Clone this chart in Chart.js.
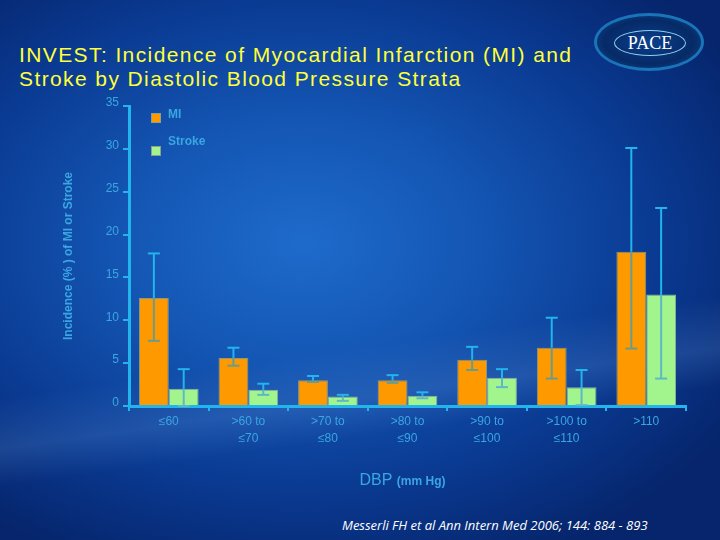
<!DOCTYPE html>
<html>
<head>
<meta charset="utf-8">
<script src="https://cdn.jsdelivr.net/npm/chart.js@4.4.1/dist/chart.umd.min.js"></script>
<style>
  html, body { margin: 0; padding: 0; }
  body {
    width: 720px; height: 540px; overflow: hidden; position: relative;
    background:
      linear-gradient(172deg, rgba(255,255,255,0) 62%, rgba(120,170,230,0.18) 70%, rgba(255,255,255,0) 76%),
      radial-gradient(ellipse 70% 65% at 42% 45%, #1e6bcb 0%, #1456b4 35%, #0a3a92 70%, #06256c 100%);
    font-family: "Liberation Sans", Arial, sans-serif;
  }
  #title {
    position: absolute; left: 19px; top: 43px; color: #ffff3a;
    font-size: 21px; line-height: 24px; letter-spacing: 1.4px; white-space: nowrap;
  }
  #cite {
    position: absolute; left: 342px; top: 516px; color: #ffffff;
    font-family: "Open Sans", sans-serif; font-style: italic; font-size: 13px; line-height: normal; white-space: nowrap;
  }
  #logo {
    position: absolute; left: 594px; top: 13px; width: 110px; height: 58px;
    border-radius: 50%; background: radial-gradient(ellipse at 50% 50%, #0b3f8e 0%, #062a66 60%, #0e4f9c 100%);
    border: 3px solid #1a74b8; box-sizing: border-box;
  }
  #logo .inner {
    position: absolute; left: 17px; top: 14px; width: 70px; height: 24px; border-radius: 50%;
    border: 1px solid #8fd0f0; color: #ffffff; font-family: "Liberation Serif", serif;
    font-size: 18px; line-height: 24px; text-align: center;
  }
  canvas { position: absolute; left: 0; top: 0; }
</style>
</head>
<body>
<div id="title">INVEST: Incidence of Myocardial Infarction (MI) and<br>Stroke by Diastolic Blood Pressure Strata</div>
<div id="logo"><div class="inner">PACE</div></div>
<div id="cite">Messerli FH et al Ann Intern Med 2006; 144: 884 - 893</div>
<canvas id="c" width="720" height="540"></canvas>
<script>
const categories = [["\u226460"], [">60 to", "\u226470"], [">70 to", "\u226480"], [">80 to", "\u226490"], [">90 to", "\u2264100"], [">100 to", "\u2264110"], [">110"]];
const miValues = [12.6, 5.6, 3.0, 3.0, 5.4, 6.8, 18.0];
const miLow = [7.6, 4.7, 2.8, 2.7, 4.2, 3.2, 6.7];
const miHigh = [17.8, 6.8, 3.5, 3.6, 6.9, 10.3, 30.1];
const strokeValues = [2.0, 1.9, 1.1, 1.2, 3.3, 2.2, 13.0];
const strokeLow = [0.0, 1.3, 0.6, 0.9, 2.2, 0.1, 3.2];
const strokeHigh = [4.3, 2.6, 1.3, 1.6, 4.3, 4.2, 23.1];
const yTicks = [0, 5, 10, 15, 20, 25, 30, 35];

const AXIS = '#22b4ec';
const TXT = '#3aa6e2';
const lows = [miLow, strokeLow];
const highs = [miHigh, strokeHigh];

const errorBars = {
  id: 'errorBars',
  afterDatasetsDraw(chart) {
    const ctx = chart.ctx;
    const y = chart.scales.y;
    chart.data.datasets.forEach((ds, di) => {
      const meta = chart.getDatasetMeta(di);
      meta.data.forEach((bar, i) => {
        const x = bar.x;
        const top = y.getPixelForValue(highs[di][i]);
        const bot = y.getPixelForValue(lows[di][i]);
        const barTop = bar.y;
        ctx.save();
        ctx.lineWidth = 2;
        ctx.strokeStyle = AXIS;
        ctx.beginPath(); ctx.moveTo(x, top); ctx.lineTo(x, Math.min(barTop, bot)); ctx.stroke();
        ctx.beginPath(); ctx.moveTo(x - 6, top); ctx.lineTo(x + 6, top); ctx.stroke();
        const inner = di === 0 ? '#6a9c8c' : '#5fb8c8';
        ctx.strokeStyle = bot > barTop ? inner : AXIS;
        ctx.beginPath(); ctx.moveTo(x, barTop); ctx.lineTo(x, bot); ctx.stroke();
        ctx.beginPath(); ctx.moveTo(x - 6, bot); ctx.lineTo(x + 6, bot); ctx.stroke();
        ctx.restore();
      });
    });
  }
};

const customLegend = {
  id: 'customLegend',
  afterDraw(chart) {
    const ctx = chart.ctx;
    const items = [[151, 113], [151, 146]];
    chart.data.datasets.forEach((ds, i) => {
      const [lx, ly] = items[i];
      ctx.save();
      ctx.fillStyle = ds.backgroundColor;
      ctx.fillRect(lx, ly, 10, 10);
      ctx.strokeStyle = '#8aa090';
      ctx.lineWidth = 1;
      ctx.strokeRect(lx + 0.5, ly + 0.5, 9, 9);
      ctx.fillStyle = TXT;
      ctx.font = 'bold 12px "Liberation Sans", Arial, sans-serif';
      ctx.textBaseline = 'middle';
      ctx.fillText(ds.label, lx + 17, ly + (i === 0 ? 2 : -4));
      ctx.restore();
    });
    ctx.save();
    ctx.fillStyle = TXT;
    ctx.textBaseline = 'alphabetic';
    const a = 'DBP ';
    const b = '(mm Hg)';
    ctx.font = 'bold 12px "Liberation Sans", Arial, sans-serif';
    const wb = ctx.measureText(b).width;
    ctx.font = '16px "Liberation Sans", Arial, sans-serif';
    const wa = ctx.measureText(a).width;
    const sx = 402.5 - (wa + wb) / 2;
    ctx.fillText(a, sx, 485);
    ctx.font = 'bold 12px "Liberation Sans", Arial, sans-serif';
    ctx.fillText(b, sx + wa, 485);
    ctx.restore();
  }
};

new Chart(document.getElementById('c'), {
  type: 'bar',
  data: {
    labels: categories,
    datasets: [
      { label: 'MI', data: miValues, backgroundColor: '#ff9900', borderColor: '#8a9a80', borderWidth: 1 },
      { label: 'Stroke', data: strokeValues, backgroundColor: '#a2f58c', borderColor: '#8ab0a0', borderWidth: 1 }
    ]
  },
  options: {
    responsive: false,
    animation: false,
    maintainAspectRatio: false,
    layout: { padding: { left: 61, top: 106, right: 34, bottom: 0 } },
    categoryPercentage: 0.75,
    barPercentage: 1.0,
    plugins: { legend: { display: false }, tooltip: { enabled: false } },
    scales: {
      x: {
        afterFit(s) { s.height = 134; },
        grid: { display: true, drawOnChartArea: false, drawTicks: true, tickLength: 5, color: AXIS, lineWidth: 2, offset: true },
        border: { color: AXIS, width: 3 },
        ticks: { color: TXT, font: { family: '"Liberation Sans", Arial, sans-serif', size: 12, lineHeight: 1.35 }, padding: 3, maxRotation: 0, autoSkip: false }
      },
      y: {
        min: 0, max: 35,
        afterFit(s) { s.width = 68; },
        afterBuildTicks(s) { s.ticks = yTicks.map(v => ({ value: v })); },
        grid: { display: true, drawOnChartArea: false, drawTicks: true, tickLength: 6, color: AXIS, lineWidth: 2 },
        border: { color: AXIS, width: 3 },
        ticks: { color: TXT, font: { family: '"Liberation Sans", Arial, sans-serif', size: 12 }, padding: 4, labelOffset: -3 },
        title: { display: true, text: 'Incidence (% ) of MI or Stroke', color: TXT, font: { family: '"Liberation Sans", Arial, sans-serif', size: 12, weight: 'bold' }, padding: { top: 0, bottom: 0 } }
      }
    }
  },
  plugins: [errorBars, customLegend]
});
</script>
</body>
</html>
